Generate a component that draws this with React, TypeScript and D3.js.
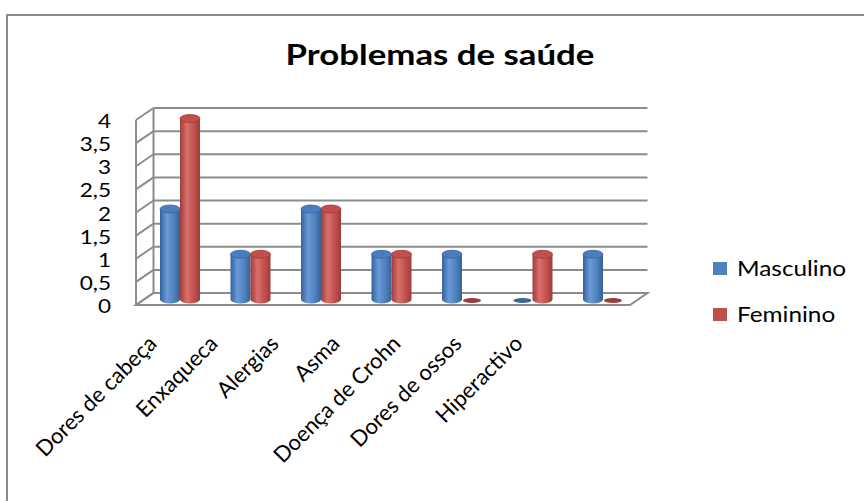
import React from "react";
import * as d3 from "d3";

const categories = ["Dores de cabeça", "Enxaqueca", "Alergias", "Asma", "Doença de Crohn", "Dores de ossos", "Hiperactivo"];
const seriesNames = ["Masculino", "Feminino"];
const masculino = [2, 1, 2, 1, 1, 0, 1];
const feminino = [4, 1, 2, 1, 0, 1, 0];
const yTicks = [0, 0.5, 1, 1.5, 2, 2.5, 3, 3.5, 4];
const yTickLabels = ["0", "0,5", "1", "1,5", "2", "2,5", "3", "3,5", "4"];
const title = "Problemas de saúde";

const W = 864, H = 501;
const FONT = "Lato, 'Open Sans', sans-serif";

export default function App() {
  const values = [masculino, feminino];
  const colors = [
    { dark: "#36619a", light: "#6a9ad8", mid: "#4f81bd", top: "#4a7cbf", rim: "#3b669e" },
    { dark: "#a03c39", light: "#d9706c", mid: "#c0504d", top: "#c24f4c", rim: "#9e3b38" },
  ];
  const frontX0 = 136, frontX1 = 630;
  const dX = 17.5, dY = -12;
  const yFront = d3.scaleLinear().domain([0, 4]).range([305, 120]);
  const yBack = (v: number) => yFront(v) + dY;
  const yMid = d3.scaleLinear().domain([0, 4]).range([299.5, 118.5]);
  const xCat = d3.scalePoint<string>().domain(categories).range([144.75, 638.25]).padding(0.5);
  const xSeries = d3.scaleBand<string>().domain(seriesNames).range([-20, 20]);
  const xLabel = d3.scalePoint<string>().domain(categories).range([158, 524]);
  const r = xSeries.bandwidth() / 2;
  const ry = 4;
  const gridColor = "#8c8c8c";

  const bars: JSX.Element[] = [];
  categories.forEach((c, i) => {
    seriesNames.forEach((s, j) => {
      const v = values[j][i];
      const cx = (xCat(c) as number) + (xSeries(s) as number) + r;
      const col = colors[j];
      const yb = yMid(0);
      const yt = yMid(v);
      if (v === 0) {
        bars.push(
          <ellipse key={`${i}-${j}`} cx={cx} cy={yb + 1} rx={r - 1} ry={2.5} fill={col.rim} />
        );
      } else {
        const body = `M${cx - r},${yt} L${cx - r},${yb} A${r},${ry} 0 0 0 ${cx + r},${yb} L${cx + r},${yt} Z`;
        bars.push(
          <g key={`${i}-${j}`}>
            <path d={body} fill={`url(#grad${j})`} />
            <ellipse cx={cx} cy={yt} rx={r} ry={ry} fill={col.top} stroke={col.rim} strokeWidth={0.8} />
          </g>
        );
      }
    });
  });

  return (
    <svg width={W} height={H} style={{ position: "absolute", left: 0, top: 0 }} fontFamily={FONT}>
      <defs>
        {colors.map((c, j) => (
          <linearGradient key={j} id={`grad${j}`} x1="0" x2="1" y1="0" y2="0">
            <stop offset="0" stopColor={c.dark} />
            <stop offset="0.35" stopColor={c.light} />
            <stop offset="0.7" stopColor={c.mid} />
            <stop offset="1" stopColor={c.dark} />
          </linearGradient>
        ))}
      </defs>
      <rect x={0} y={0} width={W} height={H} fill="#ffffff" />
      <rect x={7} y={15} width={W + 50} height={H + 50} fill="#ffffff" stroke="#8a8a8a" strokeWidth={2} />
      <text transform="translate(440,65) scale(1.2,1)" textAnchor="middle" fontSize={29} fontWeight="bold" fill="#000">{title}</text>

      <polygon
        points={`${frontX0},${yFront(0)} ${frontX1},${yFront(0)} ${frontX1 + dX},${yBack(0)} ${frontX0 + dX},${yBack(0)}`}
        fill="#ffffff" stroke={gridColor} strokeWidth={2}
      />
      {yTicks.map((t) => (
        <g key={t}>
          <line x1={frontX0 + dX} x2={frontX1 + dX} y1={yBack(t)} y2={yBack(t)} stroke={gridColor} strokeWidth={2} />
          <line x1={frontX0} x2={frontX0 + dX} y1={yFront(t)} y2={yBack(t)} stroke={gridColor} strokeWidth={2} />
        </g>
      ))}
      <line x1={frontX0} x2={frontX0} y1={yFront(4)} y2={yFront(0)} stroke={gridColor} strokeWidth={2} />
      <line x1={frontX0 + dX} x2={frontX0 + dX} y1={yBack(4)} y2={yBack(0)} stroke={gridColor} strokeWidth={2} />

      {bars}

      {yTicks.map((t, k) => (
        <text key={t} transform={`translate(111,${yFront(t) + 1}) scale(1.13,1)`} dy="0.35em" textAnchor="end" fontSize={20} fill="#000">{yTickLabels[k]}</text>
      ))}

      {categories.map((c) => (
        <text key={c} transform={`translate(${xLabel(c)},345) rotate(-45)`} textAnchor="end" fontSize={22} fill="#000">{c}</text>
      ))}

      {seriesNames.map((s, j) => (
        <g key={s} transform={`translate(713,${262 + j * 46})`}>
          <rect x={0} y={0} width={14} height={13} fill={colors[j].mid} />
          <text transform="translate(24,7) scale(1.16,1)" dy="0.35em" fontSize={21} fill="#000">{s}</text>
        </g>
      ))}
    </svg>
  );
}
